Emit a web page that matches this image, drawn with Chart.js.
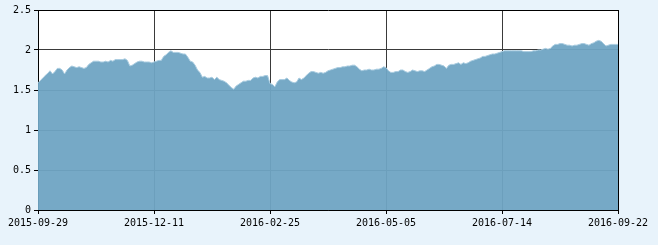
<!DOCTYPE html>
<html>
<head>
<meta charset="utf-8">
<script src="https://cdn.jsdelivr.net/npm/chart.js@4/dist/chart.umd.min.js"></script>
<style>
  html, body { margin: 0; padding: 0; background: #e8f3fb; }
  #wrap { width: 658px; height: 245px; position: relative; }
</style>
</head>
<body>
<div id="wrap"><canvas id="myChart"></canvas></div>
<script>
// tick labels on the date axis (one every 48 trading days)
const dateLabels = ['2015-09-29', '2015-12-11', '2016-02-25', '2016-05-05', '2016-07-14', '2016-09-22'];
const pointsPerLabel = 48;

// daily values, 2015-09-29 .. 2016-09-22
const values = [
  // 2015-09-29 .. 2015-12-10
  1.59, 1.62, 1.65, 1.68, 1.71, 1.74, 1.70, 1.73, 1.77, 1.77,
  1.75, 1.70, 1.75, 1.78, 1.80, 1.79, 1.78, 1.79, 1.78, 1.77,
  1.78, 1.82, 1.84, 1.86, 1.86, 1.86, 1.85, 1.85, 1.86, 1.85,
  1.87, 1.86, 1.88, 1.88, 1.88, 1.88, 1.89, 1.87, 1.80, 1.81,
  1.83, 1.85, 1.86, 1.86, 1.85, 1.85, 1.85, 1.84,
  // 2015-12-11 .. 2016-02-24
  1.85, 1.86, 1.87, 1.87, 1.92, 1.94, 1.97, 1.99, 1.97, 1.97,
  1.97, 1.96, 1.95, 1.95, 1.91, 1.86, 1.85, 1.81, 1.75, 1.72,
  1.66, 1.67, 1.65, 1.65, 1.66, 1.63, 1.66, 1.63, 1.62, 1.61,
  1.59, 1.56, 1.53, 1.51, 1.55, 1.57, 1.59, 1.61, 1.61, 1.62,
  1.62, 1.65, 1.66, 1.65, 1.67, 1.67, 1.68, 1.68,
  // 2016-02-25 .. 2016-05-04
  1.58, 1.57, 1.54, 1.60, 1.63, 1.63, 1.63, 1.65, 1.62, 1.60,
  1.59, 1.60, 1.65, 1.63, 1.65, 1.68, 1.71, 1.73, 1.73, 1.72,
  1.71, 1.72, 1.71, 1.72, 1.74, 1.75, 1.76, 1.77, 1.78, 1.78,
  1.79, 1.79, 1.80, 1.80, 1.81, 1.81, 1.79, 1.76, 1.74, 1.75,
  1.75, 1.76, 1.75, 1.75, 1.76, 1.76, 1.77, 1.79,
  // 2016-05-05 .. 2016-07-13
  1.78, 1.74, 1.72, 1.72, 1.73, 1.73, 1.75, 1.75, 1.73, 1.72,
  1.73, 1.75, 1.74, 1.73, 1.74, 1.74, 1.73, 1.75, 1.77, 1.79,
  1.80, 1.82, 1.82, 1.81, 1.80, 1.77, 1.81, 1.82, 1.82, 1.83,
  1.84, 1.82, 1.84, 1.83, 1.84, 1.86, 1.87, 1.88, 1.89, 1.90,
  1.92, 1.92, 1.93, 1.94, 1.95, 1.95, 1.96, 1.97,
  // 2016-07-14 .. 2016-09-22
  1.98, 1.99, 1.99, 1.99, 1.99, 1.99, 1.99, 1.99, 1.99, 1.98,
  1.98, 1.98, 1.98, 1.99, 1.99, 2.00, 2.00, 2.01, 2.02, 2.01,
  2.02, 2.05, 2.07, 2.07, 2.08, 2.08, 2.07, 2.06, 2.06, 2.05,
  2.06, 2.06, 2.07, 2.08, 2.08, 2.07, 2.06, 2.08, 2.09, 2.11,
  2.12, 2.11, 2.08, 2.05, 2.06, 2.07, 2.07, 2.07, 2.07
];

const yMax = 2.5;
const yStep = 0.5;
const lastIndex = values.length - 1;

// white plot area on the light blue page
const plotBackground = {
  id: 'plotBackground',
  beforeDraw(chart) {
    const { ctx, chartArea: a } = chart;
    ctx.save();
    ctx.fillStyle = '#ffffff';
    ctx.fillRect(a.left, a.top, a.right - a.left, a.bottom - a.top);
    ctx.restore();
  }
};

const edgeColor = (isEdge) => isEdge ? '#000000' : '#3a3a3a';

var ctx = document.getElementById('myChart').getContext('2d');
var myChart = new Chart(ctx, {
  type: 'line',
  data: {
    datasets: [{
      data: values.map((v, i) => ({ x: i, y: v })),
      fill: 'origin',
      backgroundColor: 'rgba(111,164,195,0.95)',
      borderColor: '#a9cce0',
      borderWidth: 1,
      pointRadius: 0,
      tension: 0
    }]
  },
  options: {
    responsive: true,
    maintainAspectRatio: false,
    animation: false,
    layout: { padding: { top: 10, right: 40, left: 0, bottom: 0 } },
    plugins: {
      legend: { display: false },
      tooltip: { enabled: false }
    },
    scales: {
      x: {
        type: 'linear',
        min: 0,
        max: lastIndex,
        afterFit: (scale) => { scale.height = 35; },
        border: { display: true, color: '#000000', width: 1 },
        grid: {
          color: (c) => edgeColor(c.index === 0 || c.tick.value === lastIndex),
          tickColor: '#000000',
          tickLength: 4,
          lineWidth: 1
        },
        ticks: {
          stepSize: pointsPerLabel,
          autoSkip: false,
          maxRotation: 0,
          padding: 3,
          color: '#000000',
          font: { family: 'DejaVu Sans Mono', size: 10 },
          callback: (v) => dateLabels[Math.round(v / pointsPerLabel)]
        }
      },
      y: {
        min: 0,
        max: yMax,
        afterFit: (scale) => { scale.width = 38; },
        border: { display: true, color: '#000000', width: 1 },
        grid: {
          color: (c) => edgeColor(c.tick.value === 0 || c.tick.value === yMax),
          tickColor: '#000000',
          tickLength: 4,
          lineWidth: 1
        },
        ticks: {
          stepSize: yStep,
          padding: 3,
          color: '#000000',
          font: { family: 'DejaVu Sans Mono', size: 10 },
          callback: (v) => String(v)
        }
      }
    }
  },
  plugins: [plotBackground]
});
</script>
</body>
</html>
